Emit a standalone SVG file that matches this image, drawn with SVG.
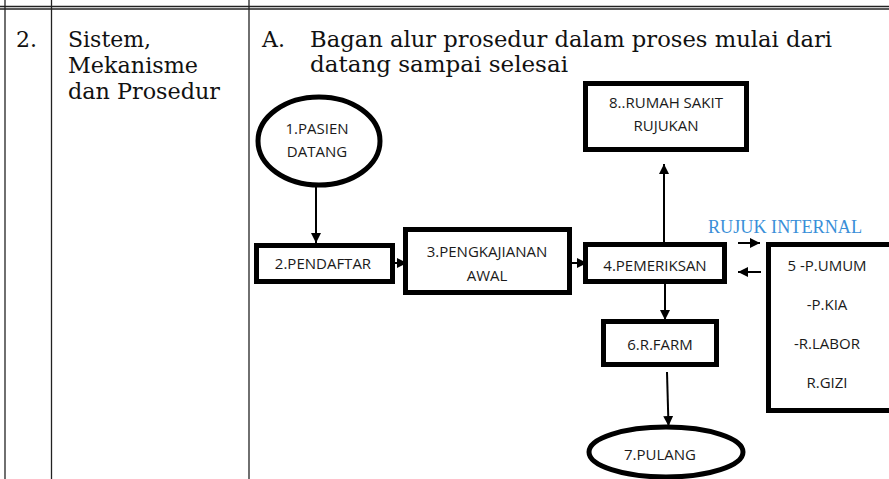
<svg xmlns="http://www.w3.org/2000/svg" width="889" height="479" viewBox="0 0 889 479">
<defs>
<style>
.tbl{stroke:#222;stroke-width:1.3;fill:none}
.serif{font-family:"DejaVu Serif","Liberation Serif",serif;font-size:22px;fill:#111}
.box{fill:#fff;stroke:#000;stroke-width:5}
.lbl{font-family:"Open Sans","Liberation Sans",sans-serif;font-size:15px;fill:#1a1a1a;text-anchor:middle}
.con{stroke:#000;stroke-width:2;fill:none}
.blue{font-family:"Liberation Serif",serif;font-size:18px;fill:#3a8fd8}
</style>
<marker id="ah" viewBox="0 0 10 10" refX="10" refY="5" markerWidth="5" markerHeight="5" orient="auto" markerUnits="strokeWidth">
<path d="M0,0 L10,5 L0,10 z" fill="#000"/>
</marker>
</defs>
<rect width="889" height="479" fill="#fff"/>
<g id="table">
<line class="tbl" x1="0" y1="6.5" x2="889" y2="6.5"/>
<line class="tbl" x1="0" y1="9" x2="889" y2="9"/>
<line class="tbl" x1="5" y1="0" x2="5" y2="479"/>
<line class="tbl" x1="51.5" y1="0" x2="51.5" y2="479"/>
<line class="tbl" x1="249" y1="0" x2="249" y2="479"/>
<text class="serif" x="16" y="47">2.</text>
<text class="serif" x="68" y="47">Sistem,</text>
<text class="serif" x="68" y="73" textLength="130" lengthAdjust="spacingAndGlyphs">Mekanisme</text>
<text class="serif" x="68" y="99" textLength="152" lengthAdjust="spacingAndGlyphs">dan Prosedur</text>
<text class="serif" x="262" y="47">A.</text>
<text class="serif" x="310" y="47" textLength="522" lengthAdjust="spacingAndGlyphs">Bagan alur prosedur dalam proses mulai dari</text>
<text class="serif" x="310" y="72" textLength="258" lengthAdjust="spacingAndGlyphs">datang sampai selesai</text>
</g>
<g id="connectors">
<line class="con" x1="316" y1="187" x2="316" y2="243" marker-end="url(#ah)"/>
<line class="con" x1="395" y1="263" x2="407" y2="263" marker-end="url(#ah)"/>
<line class="con" x1="572" y1="263" x2="587" y2="263" marker-end="url(#ah)"/>
<line class="con" x1="664" y1="243" x2="664" y2="164" marker-end="url(#ah)"/>
<line class="con" x1="665" y1="281" x2="665" y2="320" marker-end="url(#ah)"/>
<line class="con" x1="667" y1="372" x2="668.5" y2="426" marker-end="url(#ah)"/>
<line class="con" x1="738" y1="243" x2="760" y2="243" marker-end="url(#ah)"/>
<line class="con" x1="761" y1="272" x2="738" y2="272" marker-end="url(#ah)"/>
<text class="blue" x="708" y="233" textLength="154" lengthAdjust="spacingAndGlyphs">RUJUK INTERNAL</text>
</g>
<g id="n1">
<ellipse class="box" cx="319" cy="141" rx="61" ry="44"/>
<text class="lbl" x="317" y="134">1.PASIEN</text>
<text class="lbl" x="317" y="157">DATANG</text>
</g>
<g id="n2">
<rect class="box" x="256.5" y="245.5" width="136" height="36"/>
<text class="lbl" x="323" y="269">2.PENDAFTAR</text>
</g>
<g id="n3">
<rect class="box" x="405.5" y="229.5" width="164" height="63"/>
<text class="lbl" x="487" y="257">3.PENGKAJIANAN</text>
<text class="lbl" x="487" y="281">AWAL</text>
</g>
<g id="n4">
<rect class="box" x="585.5" y="244.5" width="139" height="37"/>
<text class="lbl" x="655" y="271">4.PEMERIKSAN</text>
</g>
<g id="n5">
<rect class="box" x="768.5" y="244.5" width="130" height="166"/>
<text class="lbl" x="827" y="271">5 -P.UMUM</text>
<text class="lbl" x="827" y="310">-P.KIA</text>
<text class="lbl" x="827" y="349">-R.LABOR</text>
<text class="lbl" x="827" y="388">R.GIZI</text>
</g>
<g id="n6">
<rect class="box" x="603.5" y="321.5" width="113" height="43"/>
<text class="lbl" x="660" y="350">6.R.FARM</text>
</g>
<g id="n7">
<ellipse class="box" cx="666" cy="452" rx="77" ry="25"/>
<text class="lbl" x="660" y="460">7.PULANG</text>
</g>
<g id="n8">
<rect class="box" x="585.5" y="83.5" width="161" height="66"/>
<text class="lbl" x="666" y="108">8..RUMAH SAKIT</text>
<text class="lbl" x="666" y="131">RUJUKAN</text>
</g>
</svg>
